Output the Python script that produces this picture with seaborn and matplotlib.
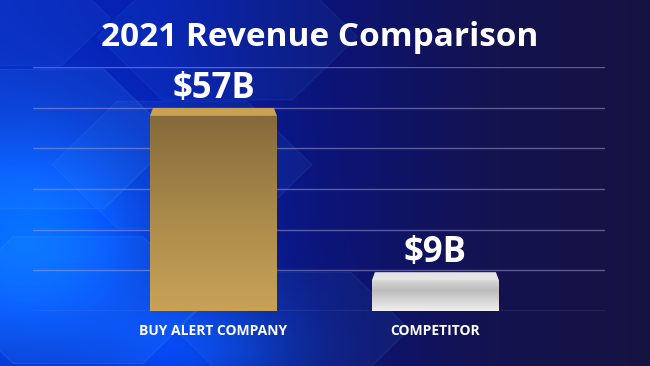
import numpy as np
import pandas as pd
import matplotlib
matplotlib.use("Agg")
import matplotlib.pyplot as plt
from matplotlib.patches import Polygon, RegularPolygon
from matplotlib.colors import LinearSegmentedColormap
import seaborn as sns

# chart values
companies = ["BUY ALERT COMPANY", "COMPETITOR"]
revenue = [57, 9]
value_labels = ["$57B", "$9B"]
title = "2021 Revenue Comparison"

df = pd.DataFrame({"company": companies, "revenue": revenue})

sns.set_style("white")
plt.rcParams["font.family"] = ["Open Sans", "DejaVu Sans"]

fig = plt.figure(figsize=(6.5, 3.66), dpi=100)

# background: blue glow on the left fading into dark navy
bg = fig.add_axes([0, 0, 1, 1])
bg.set_axis_off()
xx, yy = np.meshgrid(np.linspace(0, 1, 650), np.linspace(0, 1, 366))
stops = [(0.0, (6, 40, 190)), (0.25, (6, 30, 175)), (0.5, (12, 20, 120)),
         (0.75, (20, 18, 80)), (1.0, (22, 18, 66))]
pos = np.array([s[0] for s in stops])
img = np.zeros((366, 650, 3))
for c in range(3):
    img[..., c] = np.interp(xx, pos, [s[1][c] for s in stops]) / 255
glow = np.exp(-(((xx - 0.05) / 0.2) ** 2 + ((yy - 0.35) / 0.3) ** 2))
glow2 = np.exp(-(((xx - 0.3) / 0.15) ** 2 + ((yy - 0.05) / 0.15) ** 2))
img = img + glow[..., None] * np.array([0.0, 0.3, 0.4]) + glow2[..., None] * np.array([0.0, 0.15, 0.25])
img = np.clip(img, 0, 1)
bg.imshow(img, extent=[0, 1, 0, 1], aspect="auto", origin="lower")
for (hx, hy, r, a) in [(0.05, 0.62, 0.22, 0.12), (0.28, 0.55, 0.2, 0.08),
                       (0.12, 0.18, 0.2, 0.12), (0.35, 0.9, 0.2, 0.07),
                       (0.45, 0.1, 0.18, 0.08), (0.02, 0.95, 0.15, 0.08)]:
    bg.add_patch(RegularPolygon((hx, hy), 6, radius=r, orientation=np.pi / 6,
                                facecolor="#3aa0ff", alpha=a, edgecolor="#7cc8ff",
                                lw=0.8, transform=bg.transAxes))
bg.set_xlim(0, 1)
bg.set_ylim(0, 1)

ax = fig.add_axes([33 / 650, 55 / 366, 572 / 650, 244 / 366])
ax.patch.set_alpha(0)

ymax = 71.3
bevel = ymax * 8 / 244
sns.barplot(data=df, x="company", y="revenue", ax=ax, width=0.572,
            color="#b08f4c", saturation=1)

ax.set_ylim(0, ymax)
ax.set_xlim(-0.813, 1.764)
ax.set_yticks(np.linspace(0, ymax, 7))
ax.yaxis.grid(True, color="#9a9ad0", alpha=0.55, lw=1)
ax.set_axisbelow(True)
ax.set_yticklabels([])
ax.tick_params(left=False, bottom=False, pad=6)
for lbl in ax.get_xticklabels():
    lbl.set_color("white")
    lbl.set_fontsize(10)
    lbl.set_fontweight("bold")
ax.set_xlabel("")
ax.set_ylabel("")
sns.despine(ax=ax, left=True, bottom=True)

body_cmaps = [LinearSegmentedColormap.from_list("g", ["#c9a257", "#a98a4a", "#86693a"]),
              LinearSegmentedColormap.from_list("s", ["#f0f0f0", "#d6d6d6", "#bcbcbc", "#d8d8d8"])]
bevel_cols = ["#c9a152", "#e4e4e4"]
grad = np.linspace(0, 1, 256).reshape(-1, 1)
for i, p in enumerate(ax.patches[:2]):
    x0, w, h = p.get_x(), p.get_width(), p.get_height()
    p.set_facecolor("none")
    p.set_edgecolor("none")
    im = ax.imshow(grad, cmap=body_cmaps[i], extent=[x0, x0 + w, 0, h],
                   origin="lower", aspect="auto", zorder=2)
    im.set_clip_path(p)
    d = w * 3 / 127
    ax.add_patch(Polygon([[x0, h], [x0 + d, h + bevel], [x0 + w - d, h + bevel], [x0 + w, h]],
                         closed=True, facecolor=bevel_cols[i], edgecolor="none", zorder=3))
    ax.annotate(value_labels[i], (x0 + w / 2, h + bevel), xytext=(0, 1),
                textcoords="offset points", ha="center", va="bottom",
                color="white", fontsize=25, fontweight="bold")
ax.set_xlim(-0.813, 1.764)
ax.set_ylim(0, ymax)

fig.text(0.492, 1 - 38 / 366, title, ha="center", va="center",
         color="white", fontsize=24, fontweight="bold")

fig.savefig("out.png", dpi=100)
